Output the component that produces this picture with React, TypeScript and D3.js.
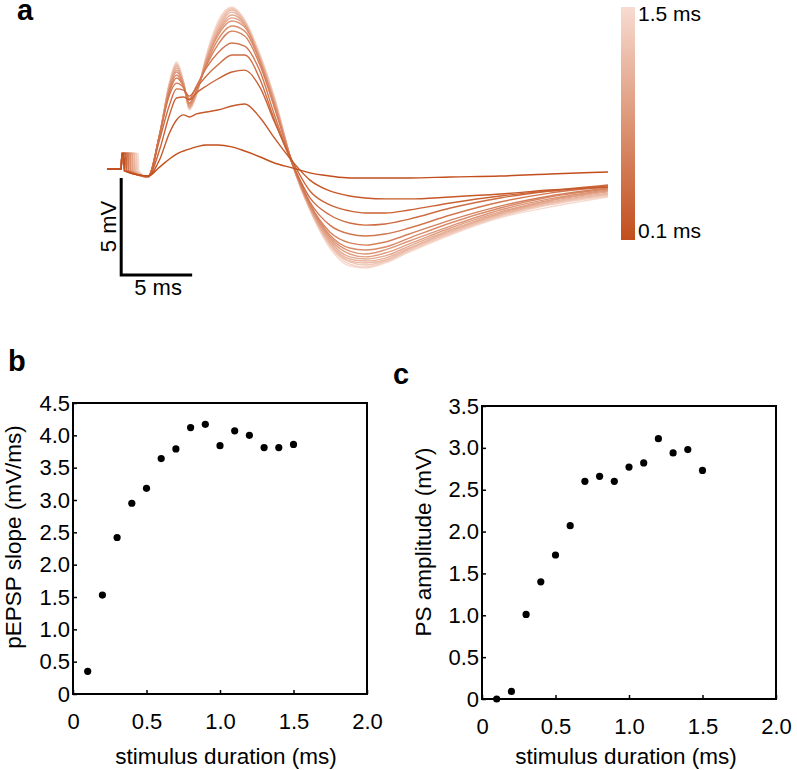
import { useEffect, useRef } from "react";
import * as d3 from "d3";

// stimulus durations (ms), one trace per duration
const durations = [0.1, 0.2, 0.3, 0.4, 0.5, 0.6, 0.7, 0.8, 0.9, 1.0, 1.1, 1.2, 1.3, 1.4, 1.5];

// panel a: sample times (ms) after the stimulus artifact
const traceTimes = [2.9, 3.7, 4.4, 4.9, 5.4, 5.8, 6.3, 7.0, 7.8, 8.8, 9.7, 10.8, 11.8, 13.1, 14.3, 15.7, 17.1, 18.2, 19.6, 21.3, 24.2, 27.7, 31.2, 35.3];

// end of the stimulus artifact (ms) for each trace
const artifactEnd = [1.15, 1.2, 1.3, 1.35, 1.45, 1.5, 1.6, 1.65, 1.75, 1.8, 1.9, 1.95, 2.05, 2.1, 2.2];
const artifactTop = 0.85;
const baselineV = 0.05;

// voltages (mV) at traceTimes
const trace01 = [-0.31, 0.15, 0.57, 0.82, 0.98, 1.08, 1.19, 1.29, 1.29, 1.19, 0.98, 0.67, 0.36, 0.1, -0.15, -0.31, -0.41, -0.41, -0.41, -0.41, -0.36, -0.31, -0.21, -0.1];
const trace02 = [-0.31, 0.52, 1.91, 2.58, 2.84, 2.73, 2.89, 2.99, 3.09, 3.3, 3.4, 2.68, 1.65, 0.41, -0.52, -1.08, -1.34, -1.44, -1.49, -1.49, -1.39, -1.24, -1.03, -0.88];
const trace03 = [-0.31, 1.03, 2.84, 3.71, 3.76, 3.61, 3.97, 4.33, 4.69, 5.05, 5.15, 4.23, 2.47, 0.41, -1.08, -1.8, -2.11, -2.22, -2.22, -2.06, -1.7, -1.34, -1.08, -0.82];
const trace04 = [-0.31, 1.55, 3.35, 4.18, 4.12, 3.81, 4.23, 4.85, 5.41, 5.93, 5.93, 4.64, 2.58, 0.26, -1.44, -2.32, -2.73, -2.84, -2.78, -2.53, -1.96, -1.44, -1.08, -0.77];
const trace05 = [-0.31, 1.8, 3.87, 4.48, 4.23, 3.66, 4.33, 5.26, 6.03, 6.55, 6.39, 5.05, 2.84, 0.26, -1.65, -2.84, -3.3, -3.4, -3.3, -2.99, -2.32, -1.65, -1.19, -0.88];
const trace06 = [-0.36, 1.8, 4.02, 4.74, 4.28, 3.45, 4.12, 5.36, 6.44, 7.16, 6.91, 5.36, 3.2, 0.26, -1.75, -3.2, -3.76, -3.87, -3.71, -3.3, -2.58, -1.86, -1.34, -0.93];
const trace07 = [-0.36, 1.8, 4.12, 4.9, 4.33, 3.4, 4.07, 5.46, 6.7, 7.42, 7.16, 5.52, 3.3, 0.26, -1.8, -3.35, -4.02, -4.12, -3.97, -3.51, -2.73, -1.96, -1.39, -0.98];
const trace08 = [-0.36, 1.8, 4.23, 5.05, 4.38, 3.3, 4.02, 5.57, 6.91, 7.68, 7.37, 5.57, 3.4, 0.26, -1.86, -3.45, -4.18, -4.33, -4.12, -3.66, -2.89, -2.06, -1.49, -1.03];
const trace09 = [-0.36, 1.8, 4.28, 5.15, 4.43, 3.3, 3.97, 5.62, 7.01, 7.84, 7.47, 5.62, 3.45, 0.26, -1.91, -3.56, -4.33, -4.48, -4.28, -3.81, -2.99, -2.16, -1.55, -1.08];
const trace10 = [-0.36, 1.8, 4.33, 5.26, 4.43, 3.25, 3.97, 5.67, 7.11, 7.99, 7.53, 5.67, 3.51, 0.26, -1.96, -3.66, -4.48, -4.59, -4.43, -3.92, -3.09, -2.22, -1.6, -1.13];
const trace11 = [-0.36, 1.8, 4.38, 5.36, 4.43, 3.2, 3.92, 5.72, 7.22, 8.14, 7.58, 5.72, 3.56, 0.21, -1.96, -3.76, -4.59, -4.69, -4.54, -4.02, -3.14, -2.27, -1.65, -1.19];
const trace12 = [-0.36, 1.8, 4.43, 5.41, 4.48, 3.2, 3.92, 5.77, 7.32, 8.25, 7.63, 5.77, 3.61, 0.21, -2.01, -3.81, -4.69, -4.79, -4.64, -4.07, -3.2, -2.32, -1.7, -1.24];
const trace13 = [-0.36, 1.8, 4.43, 5.46, 4.48, 3.14, 3.87, 5.82, 7.42, 8.3, 7.68, 5.82, 3.66, 0.21, -2.01, -3.87, -4.74, -4.9, -4.69, -4.12, -3.25, -2.37, -1.75, -1.29];
const trace14 = [-0.36, 1.8, 4.48, 5.52, 4.48, 3.14, 3.87, 5.88, 7.53, 8.35, 7.73, 5.88, 3.71, 0.21, -2.06, -3.92, -4.85, -5.0, -4.74, -4.18, -3.3, -2.42, -1.8, -1.34];
const trace15 = [-0.36, 1.8, 4.54, 5.57, 4.54, 3.09, 3.87, 5.93, 7.63, 8.4, 7.73, 5.93, 3.76, 0.21, -2.06, -4.02, -4.95, -5.05, -4.79, -4.23, -3.35, -2.47, -1.91, -1.39];
const traces = [trace01, trace02, trace03, trace04, trace05, trace06, trace07, trace08, trace09, trace10, trace11, trace12, trace13, trace14, trace15];

// panel b: pEPSP slope (mV/ms)
const slopeValues = [0.35, 1.53, 2.42, 2.95, 3.18, 3.64, 3.79, 4.12, 4.17, 3.84, 4.07, 4.0, 3.81, 3.81, 3.86];
// panel c: PS amplitude (mV)
const psValues = [0.0, 0.09, 1.01, 1.4, 1.72, 2.07, 2.6, 2.66, 2.6, 2.77, 2.82, 3.11, 2.94, 2.98, 2.73];

const xTicks = [0, 0.5, 1.0, 1.5, 2.0];
const slopeTicks = [0, 0.5, 1.0, 1.5, 2.0, 2.5, 3.0, 3.5, 4.0, 4.5];
const psTicks = [0, 0.5, 1.0, 1.5, 2.0, 2.5, 3.0, 3.5];

const FONT = "'Liberation Sans', Arial, Helvetica, sans-serif";
const DARK = "#c24e1c";
const LIGHT = "#f7dbd0";

export default function App() {
  const svgRef = useRef<SVGSVGElement>(null);

  useEffect(() => {
    if (!svgRef.current) return;
    const svg = d3.select(svgRef.current);
    svg.selectAll("*").remove();
    svg.style("font-family", FONT);

    const color = d3
      .scaleLinear<string>()
      .domain([0.1, 1.5])
      .range([DARK, LIGHT]);

    // ---- panel a: traces ----
    const xa = d3.scaleLinear().domain([0, 35.3]).range([107, 608]);
    const ya = d3.scaleLinear().domain([0, 5]).range([170, 73]);

    const line = d3
      .line<[number, number]>()
      .x((d) => xa(d[0]))
      .y((d) => ya(d[1]))
      .curve(d3.curveMonotoneX);

    const ga = svg.append("g");
    // light traces underneath, dark on top
    d3.range(durations.length)
      .reverse()
      .forEach((i) => {
        const pts: [number, number][] = [
          [0, baselineV],
          [1.0, baselineV],
          [1.05, artifactTop],
          [artifactEnd[i], artifactTop],
          [artifactEnd[i] + 0.05, -0.05],
          ...traceTimes.map((t, k) => [t, traces[i][k]] as [number, number]),
        ];
        ga.append("path")
          .attr("d", line(pts))
          .attr("fill", "none")
          .attr("stroke", color(durations[i]))
          .attr("stroke-width", 1.4);
      });

    // scale bar: 5 mV / 5 ms
    const sb = svg.append("g");
    sb.append("path")
      .attr("d", `M${xa(1.0)},${ya(-0.41)}V${ya(-5.41)}H${xa(6.0)}`)
      .attr("fill", "none")
      .attr("stroke", "#000")
      .attr("stroke-width", 3);
    sb.append("text")
      .attr("transform", `translate(${xa(1.0) - 5},${ya(-2.91)}) rotate(-90)`)
      .attr("text-anchor", "middle")
      .attr("font-size", 22)
      .text("5 mV");
    sb.append("text")
      .attr("x", xa(3.6))
      .attr("y", 295)
      .attr("text-anchor", "middle")
      .attr("font-size", 22)
      .text("5 ms");

    // colour bar
    const defs = svg.append("defs");
    const grad = defs
      .append("linearGradient")
      .attr("id", "durGrad")
      .attr("x1", "0%")
      .attr("y1", "100%")
      .attr("x2", "0%")
      .attr("y2", "0%");
    grad.append("stop").attr("offset", "0%").attr("stop-color", DARK);
    grad.append("stop").attr("offset", "100%").attr("stop-color", LIGHT);
    svg.append("rect")
      .attr("x", 621)
      .attr("y", 7)
      .attr("width", 14)
      .attr("height", 233)
      .attr("fill", "url(#durGrad)");
    svg.append("text")
      .attr("x", 638)
      .attr("y", 21)
      .attr("font-size", 21)
      .text("1.5 ms");
    svg.append("text")
      .attr("x", 638)
      .attr("y", 238)
      .attr("font-size", 21)
      .text("0.1 ms");

    // ---- scatter panels ----
    const fmt = (d: d3.NumberValue) => (+d === 0 ? "0" : (+d).toFixed(1));

    const scatter = (
      values: number[],
      yMax: number,
      yTicks: number[],
      box: { x0: number; x1: number; y0: number; y1: number },
      yTitle: string,
      yTitleX: number,
      yTitleY: number,
      xTitleX: number
    ) => {
      const x = d3.scaleLinear().domain([0, 2]).range([box.x0, box.x1]);
      const y = d3.scaleLinear().domain([0, yMax]).range([box.y1, box.y0]);
      const g = svg.append("g");

      const xAxis = g
        .append("g")
        .attr("transform", `translate(0,${box.y1})`)
        .call(
          d3.axisBottom(x).tickValues(xTicks).tickFormat(fmt).tickSize(-4).tickPadding(19)
        );
      const yAxis = g
        .append("g")
        .attr("transform", `translate(${box.x0},0)`)
        .call(d3.axisLeft(y).tickValues(yTicks).tickFormat(fmt).tickSize(-4).tickPadding(3));
      [xAxis, yAxis].forEach((a) => {
        a.select(".domain").remove();
        a.selectAll("line").attr("stroke", "#000").attr("stroke-width", 1.5);
        a.selectAll("text")
          .attr("fill", "#000")
          .style("font-size", "22px")
          .style("font-family", FONT);
      });

      g.append("rect")
        .attr("x", box.x0)
        .attr("y", box.y0)
        .attr("width", box.x1 - box.x0)
        .attr("height", box.y1 - box.y0)
        .attr("fill", "none")
        .attr("stroke", "#000")
        .attr("stroke-width", 2);

      g.selectAll("circle")
        .data(values)
        .enter()
        .append("circle")
        .attr("cx", (_, i) => x(durations[i]))
        .attr("cy", (d) => y(d))
        .attr("r", 3.6)
        .attr("fill", "#000");

      g.append("text")
        .attr("x", xTitleX)
        .attr("y", 764)
        .attr("text-anchor", "middle")
        .attr("font-size", 22.5)
        .text("stimulus duration (ms)");

      g.append("text")
        .attr("transform", `translate(${yTitleX},${yTitleY}) rotate(-90)`)
        .attr("text-anchor", "middle")
        .attr("font-size", 22.5)
        .text(yTitle);
    };

    scatter(
      slopeValues,
      4.5,
      slopeTicks,
      { x0: 73, x1: 367, y0: 403, y1: 694 },
      "pEPSP slope (mV/ms)",
      21,
      537,
      226
    );
    scatter(
      psValues,
      3.5,
      psTicks,
      { x0: 482, x1: 776, y0: 406, y1: 699 },
      "PS amplitude (mV)",
      431,
      542,
      626
    );

    // panel letters
    const letters: [string, number, number][] = [
      ["a", 17, 20],
      ["b", 8, 371],
      ["c", 393, 384],
    ];
    letters.forEach(([t, x, y]) => {
      svg.append("text")
        .attr("x", x)
        .attr("y", y)
        .attr("font-size", 29)
        .attr("font-weight", "bold")
        .text(t);
    });
  }, []);

  return (
    <svg
      ref={svgRef}
      width={797}
      height={770}
      style={{ position: "absolute", left: 0, top: 0, background: "#fff" }}
    />
  );
}
